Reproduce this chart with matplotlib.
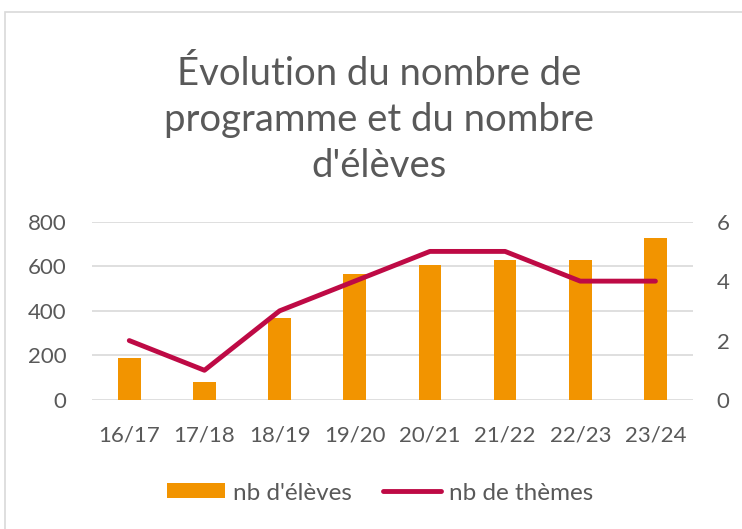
import matplotlib
matplotlib.use("Agg")
import matplotlib.pyplot as plt
from matplotlib.patches import Rectangle, Patch
from matplotlib.lines import Line2D
import numpy as np

categories = ["16/17", "17/18", "18/19", "19/20", "20/21", "21/22", "22/23", "23/24"]
nb_eleves = [190, 80, 367, 566, 605, 626, 626, 725]
nb_themes = [2, 1, 3, 4, 5, 5, 4, 4]
left_ticks = [0, 200, 400, 600, 800]
right_ticks = [0, 2, 4, 6]
title_lines = ["Évolution du nombre de", "programme et du nombre", "d'élèves"]

ORANGE = "#F29400"
CRIMSON = "#BE0A45"
GREY = "#595959"
GRID = "#D9D9D9"

plt.rcParams['font.family'] = ['Lato', 'DejaVu Sans']

W, H = 742, 529
fig = plt.figure(figsize=(W / 100, H / 100), dpi=100)

# chart frame
fig.patches.append(Rectangle((5 / W, -0.01), 1.0, 1 - 12 / H + 0.01, transform=fig.transFigure,
                             fill=False, edgecolor="#D9D9D9", linewidth=1.2))

ax = fig.add_axes([91.7 / W, 1 - 400 / H, (693 - 91.7) / W, (400 - 221.7) / H])
x = np.arange(len(categories))
ax.bar(x, nb_eleves, width=0.3, color=ORANGE, zorder=2)
ax.set_xlim(-0.5, len(categories) - 0.5)
ax.set_ylim(0, 800)
ax.set_yticks(left_ticks)
ax.set_xticks(x)
ax.set_xticklabels(categories)
ax.grid(axis="y", color=GRID, linewidth=1.2, zorder=0)
for s in ax.spines.values():
    s.set_visible(False)
ax.tick_params(axis="both", length=0, colors=GREY, labelsize=16)
ax.tick_params(axis="x", pad=18)
ax.tick_params(axis="y", pad=18)

ax2 = ax.twinx()
ax2.plot(x, nb_themes, color=CRIMSON, linewidth=3.5, solid_capstyle="round",
         solid_joinstyle="round", zorder=3)
ax2.set_ylim(0, 6)
ax2.set_yticks(right_ticks)
for s in ax2.spines.values():
    s.set_visible(False)
ax2.tick_params(axis="y", length=0, colors=GREY, labelsize=16, pad=17)

for line, base in zip(title_lines, [85, 131, 177]):
    fig.text(379 / W, 1 - base / H, line, ha="center", va="baseline",
             fontsize=27.5, color=GREY)

handles = [Patch(facecolor=ORANGE, edgecolor="none", label="nb d'élèves"),
           Line2D([0], [0], color=CRIMSON, linewidth=3.5, solid_capstyle="round", label="nb de thèmes")]
leg = fig.legend(handles=handles, loc="center", bbox_to_anchor=(380 / W, 1 - 493 / H),
                 ncol=2, frameon=False, fontsize=17.5, handlelength=2.4, handleheight=0.58,
                 columnspacing=1.28, handletextpad=0.33, labelcolor=GREY)

fig.savefig("out.png", dpi=100)
